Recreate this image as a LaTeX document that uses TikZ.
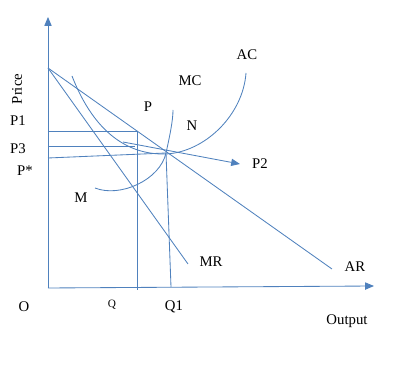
\documentclass[tikz,border=0pt]{standalone}
\usepackage{fontspec}
\setmainfont{Liberation Serif}
\usepackage{tikz}
\usetikzlibrary{positioning}
\usetikzlibrary{arrows.meta}
\definecolor{linecol}{RGB}{79,129,189}
\tikzset{>={Triangle[length=2.2mm,width=1.8mm]}}
\tikzset{
  curve/.style={linecol, line width=0.6pt},
  lab/.style={inner sep=0pt, font=\fontsize{10.5}{12}\selectfont}
}

\begin{document}
\begin{tikzpicture}[x=0.025cm, y=-0.025cm]
\useasboundingbox (0,0) rectangle (417,372);

% ================= Axes =================
\coordinate (O) at (48,288);
\coordinate (ytip) at (48,17);
\coordinate (xtip) at (374,286);
\draw[curve, ->] (O) -- (ytip);
\draw[curve, ->] (O) -- (xtip);

% ================= Demand side =================
\coordinate (top) at (48,68);
\coordinate (arend) at (332,269);
\coordinate (mrend) at (188,264);
\draw[curve] (top) -- (arend);
\draw[curve] (top) -- (mrend);

% ================= Cost curves =================
% AC
\draw[curve] (72,76) .. controls (95,135) and (130,155) .. (166,154)
  .. controls (205,152) and (243,115) .. (246,73);
% MC
\draw[curve] (95,188) .. controls (120,198) and (160,180) .. (166,153)
  .. controls (170,135) and (173,120) .. (173,110);

% ================= Price and output lines =================
\coordinate (p1) at (48,131);
\coordinate (p1end) at (137,131);
\coordinate (p3) at (48,146);
\coordinate (p3end) at (135,146);
\coordinate (ps) at (48,158);
\coordinate (eq) at (166,153);
\coordinate (qbot) at (137,290);
\coordinate (q1bot) at (171,287);
\coordinate (p2start) at (123,142);
\coordinate (p2tip) at (240,164);

\draw[curve] (p1) -- (p1end) -- (qbot);
\draw[curve] (p3) -- (p3end);
\draw[curve] (ps) -- (eq) -- (q1bot);
\draw[curve, ->] (p2start) -- (p2tip);

% ================= Labels =================
\node[lab, rotate=90] (price) at (17,89) {Price};
\foreach \n/\x/\y/\t in {
  lp1/18/121/P1, lp3/18/149/P3, lps/25/171/P*,
  lm/81/198/M, lp/148/107/P, lmc/190/81/MC, ln/192/126/N,
  lac/247/55/AC, lp2/260/164/P2, lmr/211/262/MR, lar/355/267/AR,
  lo/24/307/O, lq1/174/307/Q1, lout/347/321/Output
}{
  \node[lab] (\n) at (\x,\y) {\t};
}
\node[lab, font=\fontsize{8}{9}\selectfont] (lq) at (112,305) {Q};
\end{tikzpicture}
\end{document}
